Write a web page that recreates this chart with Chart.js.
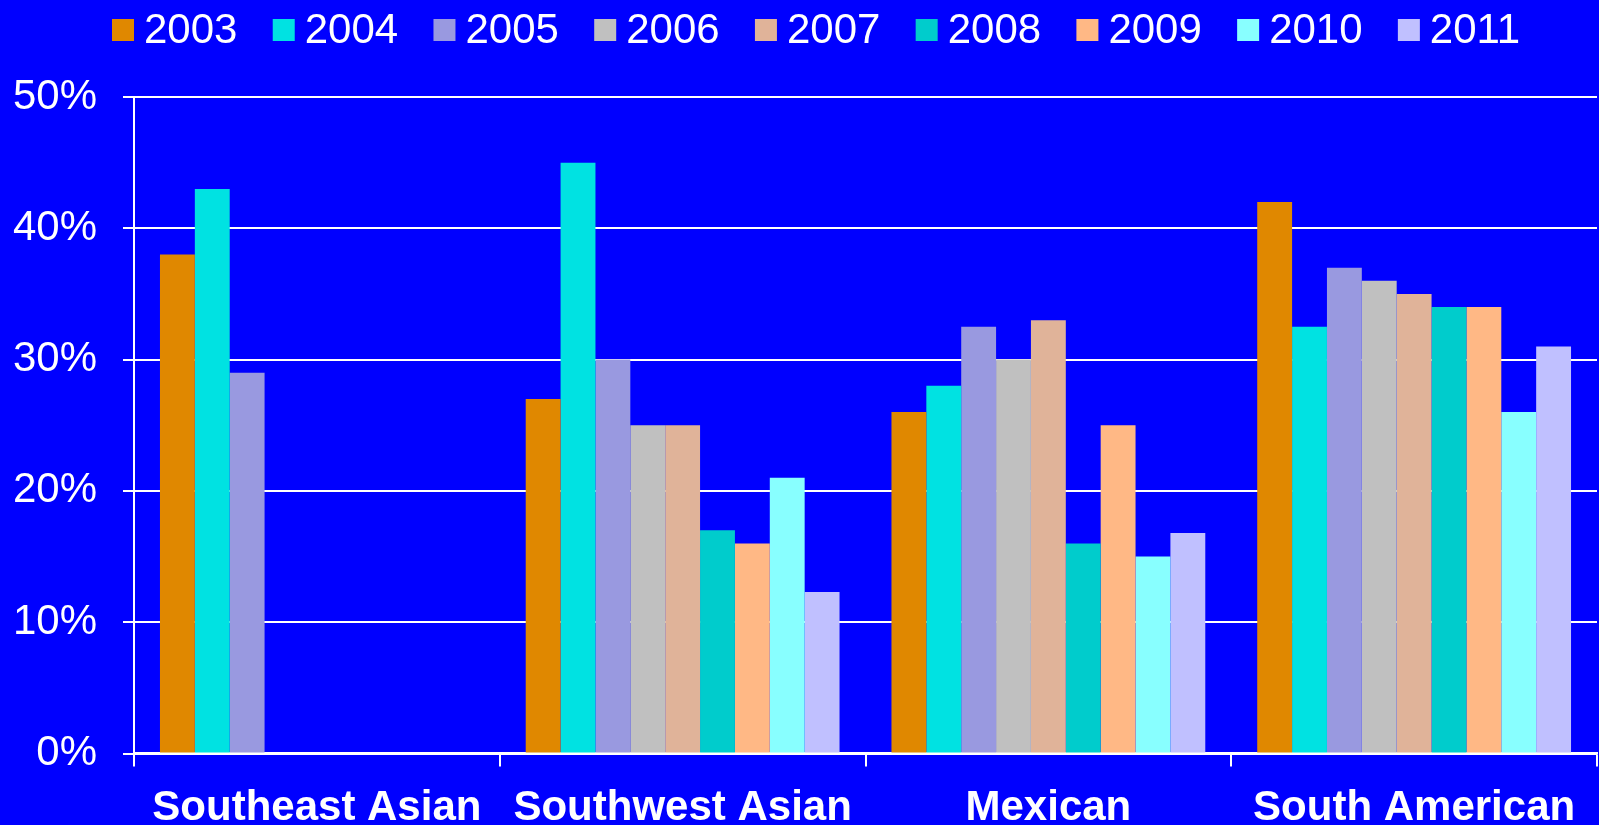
<!DOCTYPE html>
<html>
<head>
<meta charset="utf-8">
<script src="https://cdn.jsdelivr.net/npm/chart.js@4.4.1/dist/chart.umd.min.js"></script>
<style>
  html, body { margin: 0; padding: 0; background: #0000FF; overflow: hidden; }
  #wrap { width: 1599px; height: 825px; }
</style>
</head>
<body>
<div id="wrap"><canvas id="c" width="1599" height="825"></canvas></div>
<script>
const categories = ['Southeast Asian', 'Southwest Asian', 'Mexican', 'South American'];
const years = ['2003', '2004', '2005', '2006', '2007', '2008', '2009', '2010', '2011'];
const yTickLabels = ['0%', '10%', '20%', '30%', '40%', '50%'];

const v2003 = [38, 27, 26, 42];
const v2004 = [43, 45, 28, 32.5];
const v2005 = [29, 30, 32.5, 37];
const v2006 = [null, 25, 30, 36];
const v2007 = [null, 25, 33, 35];
const v2008 = [null, 17, 16, 34];
const v2009 = [null, 16, 25, 34];
const v2010 = [null, 21, 15, 26];
const v2011 = [null, 12.3, 16.8, 31];

const colors = ['#E08800', '#00E2E2', '#9999E0', '#C0C0C0', '#E0B399', '#00CCCC', '#FFB885', '#88FFFF', '#C0C0FF'];
const seriesValues = [v2003, v2004, v2005, v2006, v2007, v2008, v2009, v2010, v2011];

const FONT = '"Liberation Sans", Arial, Helvetica, sans-serif';

const datasets = years.map((y, i) => ({
  label: y,
  data: seriesValues[i],
  backgroundColor: colors[i],
  borderWidth: 0,
  categoryPercentage: 0.858,
  barPercentage: 1.0
}));

const topLegend = {
  id: 'topLegend',
  afterDraw(chart) {
    const ctx = chart.ctx;
    ctx.save();
    ctx.font = '42px ' + FONT;
    ctx.textBaseline = 'middle';
    ctx.textAlign = 'left';
    let x = 112;
    chart.data.datasets.forEach(ds => {
      ctx.fillStyle = ds.backgroundColor;
      ctx.fillRect(x, 19, 22, 22);
      ctx.fillStyle = '#FFFFFF';
      ctx.fillText(ds.label, x + 32, 31);
      x += 32 + ctx.measureText(ds.label).width + 35.3;
    });
    ctx.restore();
  }
};

new Chart(document.getElementById('c'), {
  type: 'bar',
  data: { labels: categories, datasets: datasets },
  options: {
    responsive: false,
    animation: false,
    layout: { padding: { top: 97, right: 2, bottom: 0, left: 0 } },
    plugins: {
      legend: { display: false },
      tooltip: { enabled: false }
    },
    scales: {
      x: {
        afterFit: (s) => { s.height = 71.5; },
        grid: {
          offset: true,
          drawOnChartArea: false,
          drawTicks: true,
          tickLength: 13,
          color: '#FFFFFF',
          lineWidth: 2
        },
        border: { display: true, color: '#FFFFFF', width: 2.5 },
        ticks: {
          color: '#FFFFFF',
          padding: 17,
          maxRotation: 0,
          autoSkip: false,
          font: { family: FONT, size: 42, weight: 'bold' }
        }
      },
      y: {
        min: 0,
        max: 50,
        afterFit: (s) => { s.width = 134; },
        grid: {
          color: '#FFFFFF',
          lineWidth: 2,
          drawTicks: true,
          tickLength: 11
        },
        border: { display: true, color: '#FFFFFF', width: 2 },
        ticks: {
          stepSize: 10,
          color: '#FFFFFF',
          padding: 26,
          font: { family: FONT, size: 42 },
          callback: (v, i) => yTickLabels[i]
        }
      }
    }
  },
  plugins: [topLegend]
});
</script>
</body>
</html>
